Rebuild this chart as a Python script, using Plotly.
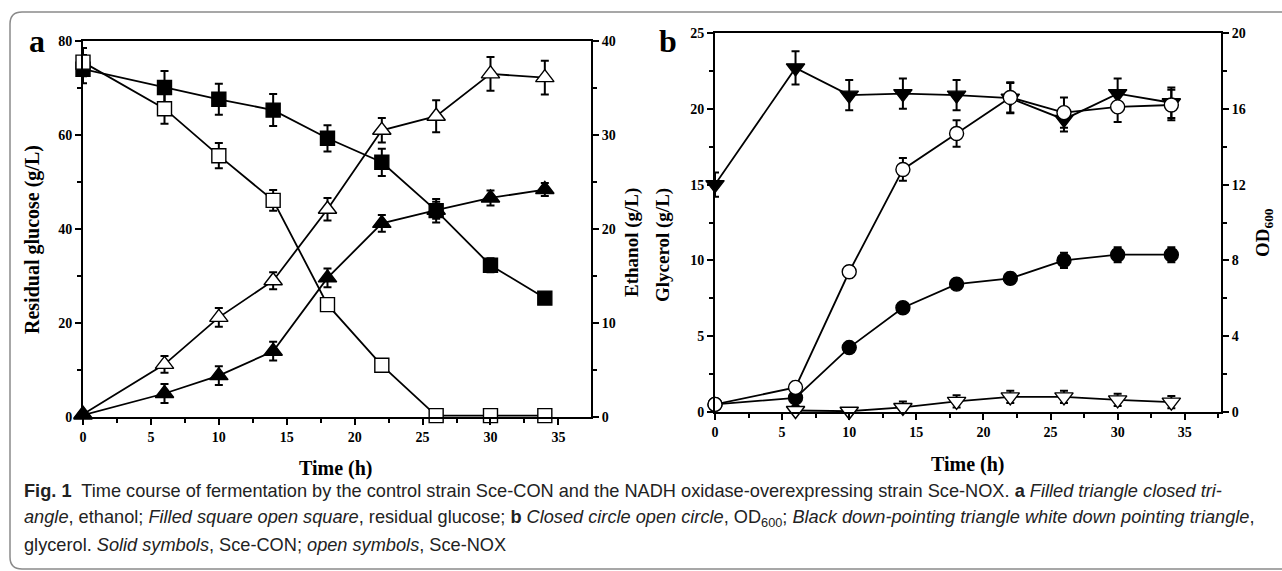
import plotly.graph_objects as go

# ---------------- data ----------------
time_h = [0, 6, 10, 14, 18, 22, 26, 30, 34]

# panel a (left axis: residual glucose g/L, right axis: ethanol g/L)
glucose_con = [74.0, 70.1, 67.6, 65.3, 59.3, 54.2, 43.9, 32.3, 25.3]
glucose_con_err = [3.0, 3.5, 3.3, 3.4, 2.8, 2.9, 2.5, 1.5, 0.8]
glucose_nox = [75.5, 65.6, 55.6, 46.1, 23.9, 11.0, 0.3, 0.3, 0.3]
glucose_nox_err = [3.0, 3.2, 2.7, 2.2, 1.0, 1.2, 0.3, 0.3, 0.3]
ethanol_con = [0.2, 2.5, 4.4, 7.0, 14.8, 20.6, 22.0, 23.3, 24.2]
ethanol_con_err = [0.1, 1.0, 1.0, 1.0, 1.0, 0.9, 0.9, 0.8, 0.7]
ethanol_nox = [0.3, 5.6, 10.6, 14.5, 22.1, 30.5, 32.0, 36.5, 36.1]
ethanol_nox_err = [0.2, 0.9, 1.0, 0.9, 1.2, 1.3, 1.7, 1.8, 1.8]

# panel b (left axis: glycerol g/L, right axis: OD600)
glycerol_con = [15.0, 22.7, 20.9, 21.0, 20.9, 20.7, 19.3, 21.0, 20.4]
glycerol_con_err = [0.8, 1.1, 1.0, 1.0, 1.0, 1.0, 0.8, 1.0, 1.0]
glycerol_nox = [None, 0.1, 0.05, 0.3, 0.7, 1.0, 1.0, 0.8, 0.65]
glycerol_nox_err = [0, 0.3, 0.1, 0.4, 0.4, 0.4, 0.4, 0.4, 0.4]
od_con = [0.4, 0.75, 3.4, 5.5, 6.75, 7.05, 8.0, 8.3, 8.3]
od_con_err = [0.1, 0.2, 0.2, 0.2, 0.2, 0.3, 0.4, 0.4, 0.4]
od_nox = [0.4, 1.3, 7.4, 12.8, 14.7, 16.6, 15.8, 16.1, 16.2]
od_nox_err = [0.1, 0.3, 0.3, 0.6, 0.7, 0.8, 0.8, 0.8, 0.8]

W, H = 1282, 571
SERIF = "Liberation Serif"
SANS = "Liberation Sans, Arial, sans-serif"

def px_x(p):
    return p / W

def px_y(p):
    return 1 - p / H

fig = go.Figure()

def add(x, y, err, xa, ya, symbol, filled, size):
    fig.add_trace(go.Scatter(
        x=x, y=y, xaxis=xa, yaxis=ya, mode="lines+markers",
        line=dict(color="black", width=1.8),
        marker=dict(symbol=symbol, size=size,
                    color="black" if filled else "white",
                    line=dict(color="black", width=1.4)),
        error_y=dict(type="data", array=err, thickness=2, width=4, color="black"),
        cliponaxis=False, showlegend=False, connectgaps=True,
    ))

# panel a
add(time_h, glucose_con, glucose_con_err, "x", "y", "square", True, 14)
add(time_h, glucose_nox, glucose_nox_err, "x", "y", "square", False, 14)
add(time_h, ethanol_nox, ethanol_nox_err, "x", "y2", "triangle-up", False, 16)
add(time_h, ethanol_con, ethanol_con_err, "x", "y2", "triangle-up", True, 16)
# panel b
add(time_h, glycerol_con, glycerol_con_err, "x2", "y3", "triangle-down", True, 16)
add(time_h, glycerol_nox, glycerol_nox_err, "x2", "y3", "triangle-down", False, 16)
add(time_h, od_con, od_con_err, "x2", "y4", "circle", True, 14)
add(time_h, od_nox, od_nox_err, "x2", "y4", "circle", False, 14)

tickfont = dict(family=SERIF, size=14, color="black", weight="bold")
common = dict(showline=True, linecolor="black", linewidth=2, ticks="outside",
              ticklen=6, tickwidth=2, tickcolor="black", showgrid=False,
              zeroline=False, tickfont=tickfont)

def minor(d):
    return dict(ticks="outside", dtick=d, ticklen=4, tickwidth=2, tickcolor="black")

xa_dom = [px_x(83), px_x(591)]
ya_dom = [px_y(417), px_y(41)]
xb_dom = [px_x(715), px_x(1221)]
yb_dom = [px_y(412), px_y(33)]

fig.update_layout(
    width=W, height=H, margin=dict(l=0, r=0, t=0, b=0, autoexpand=False),
    paper_bgcolor="white", plot_bgcolor="white",
    xaxis=dict(domain=xa_dom, anchor="y", range=[0, 37.4], dtick=5, mirror=True,
               minor=minor(2.5), **common),
    yaxis=dict(domain=ya_dom, anchor="x", range=[0, 80], dtick=20,
               minor=minor(10), **common),
    yaxis2=dict(overlaying="y", anchor="x", side="right", range=[0, 40], dtick=10,
                minor=minor(5), **common),
    xaxis2=dict(domain=xb_dom, anchor="y3", range=[0, 37.7], dtick=5, mirror=True,
                minor=minor(2.5), **common),
    yaxis3=dict(domain=yb_dom, anchor="x2", range=[0, 25], dtick=5,
                minor=minor(2.5), **common),
    yaxis4=dict(overlaying="y3", anchor="x2", side="right", range=[0, 20], dtick=4,
                minor=minor(2), **common),
)

def ann(text, x, y, font, angle=0, xanchor="center", yanchor="middle"):
    fig.add_annotation(text=text, x=px_x(x), y=px_y(y), xref="paper", yref="paper",
                       showarrow=False, textangle=angle, font=font,
                       xanchor=xanchor, yanchor=yanchor)

big_title = dict(family=SERIF, size=20, color="black", weight="bold")
mid_title = dict(family=SERIF, size=19, color="black", weight="bold")

ann("Residual glucose (g/L)", 32, 240, big_title, -90)
ann("Ethanol (g/L)", 632, 243, mid_title, -90)
ann("Glycerol (g/L)", 663, 245, mid_title, -90)
ann("OD<sub>600</sub>", 1264, 233, mid_title, -90)
ann("Time (h)", 336, 468, big_title)
ann("Time (h)", 968, 464, big_title)
ann("a", 37, 41, dict(family=SERIF, size=32, color="black", weight="bold"))
ann("b", 668, 41, dict(family=SERIF, size=32, color="black", weight="bold"))

cap_font = dict(family=SANS, size=18.2, color="#222222")
ann("<b>Fig. 1</b>  Time course of fermentation by the control strain Sce-CON and the NADH "
    "oxidase-overexpressing strain Sce-NOX. <b>a</b> <i>Filled triangle closed tri-</i>",
    22, 491, cap_font, xanchor="left")
ann("<i>angle</i>, ethanol; <i>Filled square open square</i>, residual glucose; <b>b</b> "
    "<i>Closed circle open circle</i>, OD<sub>600</sub>; <i>Black down-pointing triangle "
    "white down pointing triangle</i>,",
    22, 518, cap_font, xanchor="left")
ann("glycerol. <i>Solid symbols</i>, Sce-CON; <i>open symbols</i>, Sce-NOX",
    22, 545, cap_font, xanchor="left")

# outer frame with rounded left corners
fig.add_shape(type="path", xref="paper", yref="paper",
              path=(f"M {px_x(1300)} {px_y(12)} L {px_x(22)} {px_y(12)} "
                    f"Q {px_x(10)} {px_y(12)} {px_x(10)} {px_y(24)} "
                    f"L {px_x(10)} {px_y(557)} Q {px_x(10)} {px_y(569)} {px_x(22)} {px_y(569)} "
                    f"L {px_x(1300)} {px_y(569)}"),
              line=dict(color="#8a8a8a", width=1.5))

fig.write_html("out.html", config={"displayModeBar": False},
               post_script="document.body.style.margin='0';document.body.style.overflow='hidden';")
